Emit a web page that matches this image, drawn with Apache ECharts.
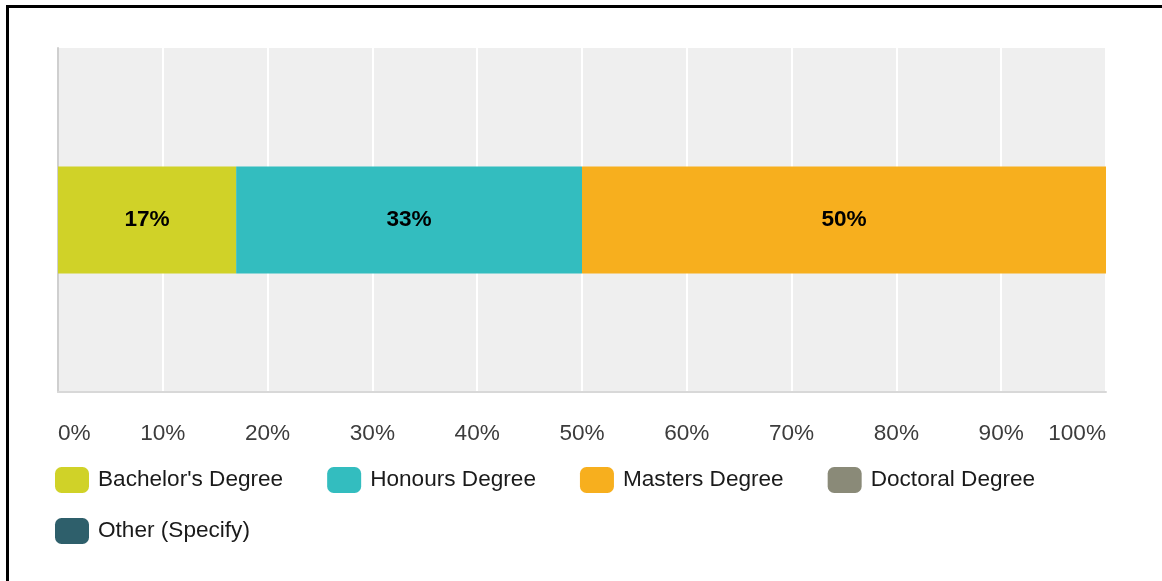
<!DOCTYPE html>
<html>
<head>
<meta charset="utf-8">
<script src="https://cdn.jsdelivr.net/npm/echarts@6/dist/echarts.min.js"></script>
<style>
  html, body { margin: 0; padding: 0; background: #fff; }
  #chart { width: 1162px; height: 581px; }
</style>
</head>
<body>
<div id="chart"></div>
<script>
// Highest qualification held by respondents (share of answers, %)
const categories = ['Q'];
const seriesNames = ["Bachelor's Degree", 'Honours Degree', 'Masters Degree', 'Doctoral Degree', 'Other (Specify)'];
const seriesValues = [17, 33, 50, 0, 0];
const seriesColors = ['#d0d228', '#33bdbf', '#f7af1e', '#8a8a78', '#2e5f6b'];
const tickValues = [0, 10, 20, 30, 40, 50, 60, 70, 80, 90, 100];

const FONT = '"Liberation Sans", Arial, sans-serif';
const FONT_SIZE = 22.6;

const chart = echarts.init(document.getElementById('chart'), null, { renderer: 'canvas' });

const series = seriesNames.map((name, i) => ({
  name: name,
  type: 'bar',
  stack: 'total',
  barWidth: 107,
  data: [seriesValues[i]],
  itemStyle: { color: seriesColors[i] },
  label: {
    show: seriesValues[i] > 0,
    position: 'inside',
    formatter: p => p.value + '%',
    color: '#000',
    fontFamily: FONT,
    fontWeight: 'bold',
    fontSize: FONT_SIZE
  },
  emphasis: { disabled: true }
}));

const legendCommon = {
  left: 55,
  padding: 0,
  orient: 'horizontal',
  icon: 'roundRect',
  itemWidth: 34,
  itemHeight: 26,
  itemGap: 44,
  selectedMode: false,
  textStyle: {
    fontFamily: FONT,
    fontSize: FONT_SIZE,
    color: '#1a1a1a',
    padding: [0, 0, 0, 4]
  }
};

chart.setOption({
  animation: false,
  backgroundColor: '#fff',
  grid: {
    left: 58,
    right: 56,
    top: 48,
    bottom: 189,
    show: true,
    backgroundColor: '#efefef',
    borderWidth: 0,
    containLabel: false
  },
  legend: [
    Object.assign({}, legendCommon, { top: 467, data: seriesNames.slice(0, 4) }),
    Object.assign({}, legendCommon, { top: 518, data: seriesNames.slice(4) })
  ],
  xAxis: {
    type: 'value',
    min: tickValues[0],
    max: tickValues[tickValues.length - 1],
    interval: tickValues[1] - tickValues[0],
    axisLine: { show: true, lineStyle: { color: '#d8d8d8', width: 2 } },
    axisTick: { show: false },
    splitLine: { show: true, lineStyle: { color: '#ffffff', width: 2 } },
    axisLabel: {
      formatter: '{value}%',
      fontFamily: FONT,
      fontSize: FONT_SIZE,
      color: '#3c3c3c',
      margin: 30,
      alignMinLabel: 'left',
      alignMaxLabel: 'right'
    }
  },
  yAxis: {
    type: 'category',
    data: categories,
    axisLine: { show: true, lineStyle: { color: '#cfcfcf', width: 2 } },
    axisTick: { show: false },
    axisLabel: { show: false },
    splitLine: { show: false }
  },
  series: series,
  graphic: [
    { type: 'rect', shape: { x: 6, y: 5, width: 1156, height: 3 }, style: { fill: '#000' }, silent: true },
    { type: 'rect', shape: { x: 6, y: 5, width: 3, height: 576 }, style: { fill: '#000' }, silent: true }
  ]
});
</script>
</body>
</html>
